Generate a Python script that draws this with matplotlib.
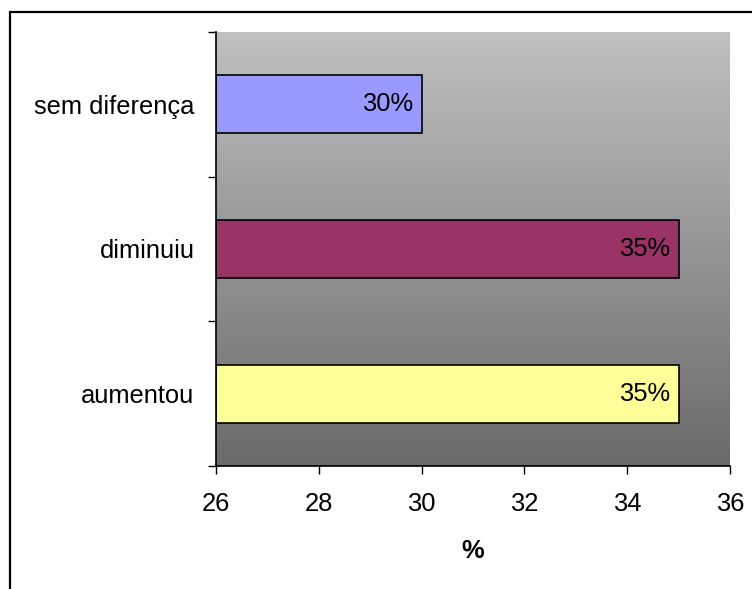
import numpy as np
import matplotlib
matplotlib.use("Agg")
import matplotlib.pyplot as plt
from matplotlib.patches import Rectangle

plt.rcParams['font.family'] = ['Liberation Sans', 'DejaVu Sans']

categories = ["aumentou", "diminuiu", "sem diferença"]
values = [35, 35, 30]
labels = ["35%", "35%", "30%"]
colors = ["#ffff99", "#993366", "#9999ff"]
x_ticks = [26, 28, 30, 32, 34, 36]

FS = 18.4

fig = plt.figure(figsize=(7.52, 5.89), dpi=100)
ax = fig.add_axes([216 / 752, 1 - 466 / 589, 514 / 752, 434 / 589])

# outer frame around the chart
fig.patches.append(Rectangle((10 / 752, -0.05), 1.2, 1 - 12 / 589 + 0.05,
                             transform=fig.transFigure, fill=False,
                             edgecolor="black", linewidth=1.6))

ax.set_xlim(26, 36)
ylo, yhi = -0.5, len(categories) - 0.5

# vertical grey gradient background: dark at the bottom, light at the top
grad = np.linspace(0, 1, 256).reshape(-1, 1)
cmap = matplotlib.colors.LinearSegmentedColormap.from_list("bg", ["#6a6a6a", "#c0c0c0"])
ax.imshow(grad, extent=[26, 36, ylo, yhi], aspect="auto",
          cmap=cmap, zorder=0, origin="lower")
ax.set_ylim(ylo, yhi)

y = np.arange(len(categories))
ax.barh(y, np.array(values) - 26, left=26, height=0.4, color=colors,
        edgecolor="black", linewidth=1.2, zorder=2)

for yi, v, lab in zip(y, values, labels):
    ax.annotate(lab, xy=(v, yi), xytext=(-6, 0), textcoords="offset points",
                ha="right", va="center", fontsize=FS, zorder=3)

for s in ["top", "right"]:
    ax.spines[s].set_visible(False)
for s in ["left", "bottom"]:
    ax.spines[s].set_linewidth(1.2)
    ax.spines[s].set_zorder(4)

ax.set_xticks(x_ticks)
ax.set_xticklabels([str(t) for t in x_ticks], fontsize=FS)
ax.tick_params(axis="x", direction="out", length=6, width=1, pad=13)

ax.set_yticks(y)
ax.set_yticklabels(categories, fontsize=FS)
ax.set_yticks(np.arange(len(categories) + 1) - 0.5, minor=True)
ax.tick_params(axis="y", which="major", length=0, pad=15.5)
ax.tick_params(axis="y", which="minor", direction="out", length=6, width=1)

ax.set_xlabel("%", fontsize=FS, fontweight="bold", labelpad=16)

fig.savefig("out.png", dpi=100)
